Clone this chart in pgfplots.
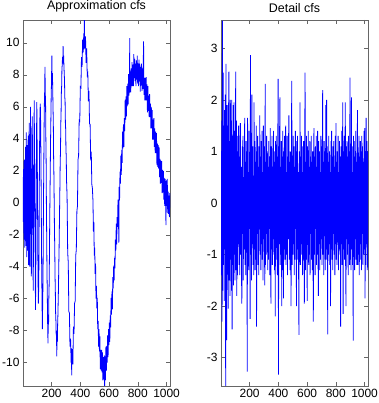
\documentclass[border=0pt]{standalone}
\usepackage{fontspec}
\setmainfont{Liberation Sans}
\usepackage{pgfplots}
\usepackage{pgfplotstable}
\pgfplotsset{compat=1.18}

\pgfplotstableread{
y
0.6
-1.4
1.6
-2.3
3.54
-1.7
2.53
-1.2
1.5
-1.9
1.8
-0.9
2.1
-3.55
2.7
-1.6
-2.66
1.9
-1.3
1.5
-2.05
1.7
2.55
-1.5
1.2
-1.8
2.0
-1.1
1.6
-1.7
2.0
-2.45
1.3
-1.2
1.9
-1.6
1.95
-1.0
1.4
-1.5
1.1
2.55
-1.3
1.6
-1.8
1.0
-1.4
1.3
-0.8
1.5
-1.2
0.9
-1.4
1.2
1.55
-1.0
0.7
-1.3
-1.95
1.1
-0.6
1.3
-1.5
0.5
-0.9
1.0
1.65
-1.2
0.8
-1.4
1.2
-0.7
1.0
-3.27
1.65
-1.1
0.6
-1.3
1.4
-0.5
0.9
-2.25
2.87
-1.0
1.3
-1.5
2.1
-0.8
1.1
-1.2
0.5
-1.4
1.95
-0.9
1.2
-1.3
0.8
-1.1
1.5
-2.4
1.0
-0.6
1.3
-1.2
0.7
-1.4
1.1
-0.5
1.7
-1.0
0.9
-1.3
1.2
-0.8
1.4
-1.1
0.6
-1.5
1.5
-0.7
1.1
-0.9
-1.6
2.31
-1.2
0.8
-1.0
1.3
-0.6
1.0
-1.3
0.7
-1.1
1.2
-0.5
0.9
-1.4
1.45
-0.8
-1.95
1.1
-0.9
1.3
-1.2
0.6
-1.0
1.4
-0.7
1.0
-1.3
0.8
-2.2
1.2
-0.6
1.3
-1.1
0.9
-1.4
1.0
2.41
-3.33
1.1
-0.8
1.3
2.05
-1.2
0.7
-1.0
1.2
-2.0
0.9
-1.3
1.4
-0.6
-1.85
1.0
-0.9
1.3
-1.1
0.8
1.5
-1.2
0.6
-1.0
1.3
-1.4
0.9
-0.7
1.2
1.7
-1.1
0.8
-1.3
1.0
-0.6
-2.0
1.1
2.37
-1.2
0.9
-1.0
1.3
-0.8
1.1
-1.4
0.7
-1.1
1.4
-0.5
1.0
-2.0
1.2
-0.9
1.3
-1.1
0.6
-1.3
-2.56
1.0
-0.7
1.95
-1.2
0.9
-1.0
1.3
-0.8
1.1
-1.4
0.6
-1.1
1.2
-0.9
-1.95
1.0
2.53
-1.3
0.8
-1.1
1.3
-0.6
-1.9
1.1
-0.8
1.4
-1.2
0.7
-1.0
1.2
-1.4
0.9
-0.6
1.3
-1.1
0.8
-1.3
1.0
-0.7
-2.3
1.2
1.45
-1.0
0.9
-1.4
1.1
-0.5
1.3
-1.2
0.7
-1.0
1.4
-0.9
-1.8
1.2
-0.8
1.0
-1.3
0.6
-1.1
1.3
-0.7
1.1
-1.2
0.9
2.19
-1.0
0.8
-1.4
1.2
-0.6
1.0
-1.3
0.7
1.9
-1.1
2.0
-0.9
1.1
-2.55
0.8
-1.0
1.3
-0.8
1.0
-1.2
0.6
-2.0
1.2
-0.9
1.4
-1.1
0.9
-1.3
1.1
-0.6
1.2
-1.0
0.7
-1.4
1.3
-0.8
1.55
-1.1
0.8
-1.2
1.0
-0.7
1.3
-1.3
0.6
-0.9
1.2
-1.0
0.9
-2.4
1.1
-0.8
1.4
-1.2
0.7
1.95
-2.15
1.0
-0.9
1.3
-1.1
0.8
1.95
-1.3
-2.0
1.1
-0.7
1.2
-1.0
0.9
-1.4
1.3
-0.8
1.0
-1.2
2.43
-1.1
0.8
-1.3
2.05
-0.9
1.1
-1.2
0.6
-2.67
1.3
-1.0
1.2
-1.3
0.9
-0.7
1.4
-1.1
0.8
-1.2
1.0
1.8
-1.2
0.7
-1.0
1.3
-1.4
0.9
-0.8
1.2
-1.1
1.0
-1.3
1.3
-0.6
1.1
-1.2
0.8
-1.0
1.4
-0.9
1.45
-1.85
1.0
-1.2
1.65
-0.8
1.2
-1.3
1.0
-1.25
}\detailtable

\begin{document}
\begin{tikzpicture}
\pgfplotsset{
  mystyle/.style={
    scale only axis, width=147bp, height=366bp,
    xmin=1, xmax=1024,
    xtick={200,400,600,800,1000},
    tick align=inside,
    tick label style={font=\fontsize{12}{14}\selectfont, black},
    title style={font=\fontsize{12.5}{14}\selectfont, black, yshift=-2bp},
    /pgf/number format/assume math mode=true,
    /pgf/number format/1000 sep={},
    axis line style={black!60},
    every tick/.style={black!60},
    major tick length=4bp,
    anchor=south west,
  }
}
\begin{axis}[mystyle, at={(0bp,0bp)}, ymin=-11.46, ymax=11.43,
  ytick={-10,-8,-6,-4,-2,0,2,4,6,8,10},
  title={Approximation cfs}]
\addplot[blue, line width=0.8bp] coordinates {
(1,0.3)(2,1.6)(3,-1.2)(4,0.4)(5,2.1)(6,-1.9)(7,0.2)(8,2.6)(9,-2.3)(10,-0.5)(11,2.7)(12,0.3)(13,-2.8)(14,-0.6)(15,2.2)(16,0.8)(17,-2.4)(18,-0.2)(19,3.5)(20,1.0)(22,-2.7)(23,-0.3)(24,4.4)(25,1.2)(27,-3.4)(28,-1.0)(30,3.6)(31,0.5)(33,-3.0)(35,0.8)(37,4.2)(38,1.9)(40,-3.9)(42,-0.7)(44,5.0)(46,1.4)(49,-4.0)(51,-0.9)(53,6.0)(56,1.6)(59,-4.6)(62,-0.4)(65,5.4)(68,2.2)(70,-1.8)(72,-5.5)(75,-1.2)(79,6.4)(81,3.5)(84,-0.8)(88,-6.7)(91,-3.2)(94,2.4)(97,6.3)(99,4.1)(102,0.6)(104,-2.9)(106,-5.0)(108,-6.3)(110,-5.4)(112,-3.6)(114,0.4)(116,2.9)(118,5.1)(121,6.2)(123,5.6)(125,3.8)(128,0.2)(130,-3.1)(132,-4.9)(134,-6.6)(136,-7.9)(138,-6.2)(140,-5.1)(142,-2.3)(144,0.5)(146,2.6)(148,4.9)(150,6.3)(152,7.0)(154,8.5)(156,6.8)(158,6.4)(160,4.1)(162,2.6)(164,-0.3)(166,-2.2)(168,-4.4)(170,-5.6)(172,-7.3)(175,-8.8)(177,-7.0)(179,-7.6)(181,-5.9)(183,-5.1)(185,-3.3)(187,-1.0)(189,0.6)(191,2.3)(193,4.0)(195,5.2)(197,6.6)(199,7.4)(202,9.2)(204,7.6)(206,8.1)(208,7.0)(210,5.9)(212,5.0)(214,2.9)(216,1.8)(218,0.1)(220,-1.7)(222,-2.8)(224,-4.6)(226,-5.5)(228,-6.9)(230,-7.4)(232,-8.3)(234,-8.0)(236,-9.6)(238,-8.2)(240,-8.7)(242,-7.6)(244,-7.0)(246,-6.1)(248,-5.3)(250,-3.9)(252,-3.0)(254,-1.6)(256,-0.2)(258,1.1)(260,2.6)(262,3.2)(264,4.9)(266,5.6)(268,6.9)(270,7.3)(272,8.4)(274,8.6)(276,9.1)(278,8.8)(280,9.8)(282,8.7)(284,9.2)(286,8.5)(288,8.1)(290,7.6)(292,6.6)(294,6.3)(296,5.0)(298,4.6)(300,3.3)(302,2.9)(304,1.4)(306,0.9)
(308,0.2)(312,-3.1)(316,-3.75)(320,-6.8)(324,-6.9)(328,-9.0)(332,-8.5)(336,-10.0)(338,-9.1)(340,-10.8)(342,-9.3)(344,-9.15)(348,-10.1)(352,-7.75)(356,-8.2)(360,-6.3)(364,-6.15)(368,-3.3)(372,-2.95)(376,-0.55)(380,-0.2)(384,2.7)(388,2.95)(392,5.15)(396,5.1)(400,7.25)(404,7.2)(408,9.1)(412,8.5)(416,10.2)(420,9.4)(424,10.6)(426,9.6)(428,11.42)(430,10.0)(432,9.65)(436,10.4)(440,8.75)(444,9.65)(448,8.0)(452,8.1)(456,6.35)(460,7.0)(464,4.95)(468,4.9)(472,2.65)(476,3.2)(480,1.15)(484,0.9)
(488,0.1)(491,-1.8)(494,-1.2)(497,-3.3)(500,-2.8)(503,-4.45)(506,-3.8)(509,-6.0)(512,-5.2)(515,-6.6)(518,-5.95)(521,-7.9)(524,-7.4)(527,-9.0)(530,-7.9)(533,-9.3)(536,-8.35)(539,-10.4)(542,-9.2)(545,-10.5)(548,-9.2)(551,-10.6)(554,-9.35)(557,-11.1)(560,-9.65)(563,-11.05)(566,-9.55)(569,-11.45)(572,-9.6)(575,-11.1)(578,-9.0)(581,-10.5)(584,-8.95)(587,-10.0)(590,-8.3)(593,-9.65)(596,-7.9)(599,-8.9)(602,-7.5)(605,-8.7)(608,-7.05)(611,-7.8)(614,-5.95)(617,-7.0)(620,-5.55)(623,-6.65)(626,-4.65)(629,-5.35)(632,-3.95)(635,-4.85)(638,-3.45)(641,-4.1)(644,-2.3)(647,-3.0)(650,-1.3)(653,-2.6)(656,-0.9)(659,-1.5)(662,0.2)(665,-0.6)(668,-2.5)
(670,1.0)(673,0.15)(676,1.95)(679,1.2)(682,2.95)(685,1.75)(688,3.3)(691,2.5)(694,4.45)(697,3.4)(700,4.9)(703,3.5)(706,5.3)(709,4.5)(712,6.45)(715,5.2)(718,6.65)(721,5.4)(724,7.3)(727,6.05)(730,7.45)(733,6.15)(736,8.05)(739,6.7)(742,8.0)(744,10.3)(745,6.9)(748,8.2)(751,6.9)(754,8.4)(757,7.3)(760,8.8)(763,7.3)(766,8.6)(769,7.3)(772,9.3)(775,7.8)(778,9.0)(781,7.6)(784,8.7)(787,7.3)(790,8.9)(793,7.7)(796,9.2)(799,7.45)(802,8.7)(805,7.3)(808,8.95)(811,7.6)(814,8.7)(817,6.95)(820,8.5)(823,7.35)(826,8.7)(829,7.0)(832,8.4)(835,7.1)(838,8.55)(840,10.1)(843,6.75)(846,7.8)(849,6.4)(852,7.8)(855,6.4)(858,7.85)(861,6.4)(864,7.4)(867,5.65)(870,7.3)(873,5.75)(876,6.7)(879,5.35)(882,6.8)(885,5.35)(888,6.2)(891,4.65)(894,6.0)(897,4.65)(900,5.8)(903,3.95)(906,5.2)(909,3.95)(912,5.3)(915,3.5)(918,4.65)(921,3.1)(924,4.45)(927,3.1)(930,4.35)(933,2.35)(936,3.7)(939,2.25)(942,3.6)(945,2.15)(948,3.5)(951,1.6)(954,2.75)(957,1.2)(960,2.65)(963,1.25)(966,2.6)(969,0.6)(972,2.05)(975,0.65)(978,2.0)(981,0.2)(984,1.55)(987,-0.2)(990,1.5)(993,0.2)(996,-1.4)(999,1.4)(1002,-0.2)(1005,1.5)(1008,-0.65)(1011,0.7)(1014,-0.7)(1017,0.45)(1020,-0.9)(1023,0.6)(1024,-0.3)
};
\end{axis}
\begin{axis}[mystyle, at={(198bp,0bp)}, ymin=-3.55, ymax=3.55,
  ytick={-3,-2,-1,0,1,2,3},
  title={Detail cfs}]
\addplot[blue, line width=0.8bp] table[x expr=\coordindex*2.5+1, y=y] {\detailtable};
\end{axis}
\pgfresetboundingbox
\path[use as bounding box] (-23bp,-17bp) rectangle (356bp,386bp);
\end{tikzpicture}
\end{document}
